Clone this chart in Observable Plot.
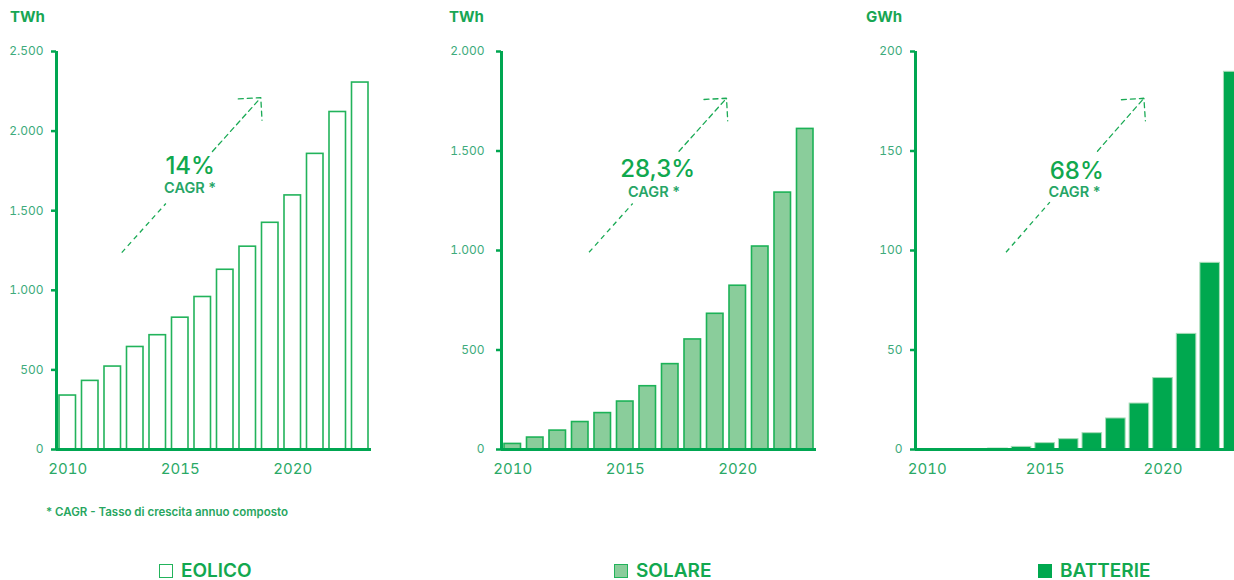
<!DOCTYPE html>
<html><head><meta charset="utf-8">
<script src="https://cdn.jsdelivr.net/npm/d3@7"></script>
<script src="https://cdn.jsdelivr.net/npm/@observablehq/plot@0.6"></script>
<style>
body{margin:0;width:1234px;height:580px;overflow:hidden;background:#fff;font-family:Inter,sans-serif;position:relative}
.panel{position:absolute;top:0;width:400px;height:480px}
.panel svg{max-width:none !important}
.unit{position:absolute;top:9px;font-weight:700;font-size:15px;line-height:1;color:#18a653}
.note{position:absolute;left:46px;top:507px;font-size:11.5px;line-height:1;font-weight:600;color:#27a660}
.legend{position:absolute;top:564px;font-size:19px;line-height:14px;font-weight:600;color:#12a84f;display:flex;align-items:center}
.sw{width:12px;height:12px;border:1.5px solid #22b35b;margin-right:8px;box-sizing:content-box}
</style>
</head><body>
<div id="p1" class="panel" style="left:0"></div>
<div id="p2" class="panel" style="left:420px"></div>
<div id="p3" class="panel" style="left:850px"></div>
<div class="unit" style="left:10px">TWh</div>
<div class="unit" style="left:449px">TWh</div>
<div class="unit" style="left:866px">GWh</div>
<div class="note">* CAGR - Tasso di crescita annuo composto</div>
<div class="legend" style="left:159px"><span class="sw" style="background:#fff"></span>EOLICO</div>
<div class="legend" style="left:614px"><span class="sw" style="background:#8acd9b"></span>SOLARE</div>
<div class="legend" style="left:1038px"><span class="sw" style="background:#00a84f;border-color:#00a84f"></span>BATTERIE</div>
<script>
// ---- data ----
const years = [2010, 2011, 2012, 2013, 2014, 2015, 2016, 2017, 2018, 2019, 2020, 2021, 2022, 2023];
const eolico = [339, 431, 521, 644, 718, 828, 958, 1129, 1274, 1424, 1596, 1857, 2120, 2305];
const solare = [28, 60, 95, 138, 183, 241, 318, 429, 553, 682, 823, 1020, 1291, 1611];
const batterie = [0.1, 0.1, 0.2, 0.5, 1.3, 3.2, 5.2, 8.2, 15.6, 23.1, 35.9, 58.1, 93.8, 189.8];
const eolicoTicks = [0, 500, 1000, 1500, 2000, 2500];
const solareTicks = [0, 500, 1000, 1500, 2000];
const batterieTicks = [0, 50, 100, 150, 200];
const xTicks = [2010, 2015, 2020];
const cagrLabels = ["14%", "28,3%", "68%"];
const cagrNote = "CAGR *";
// annotation anchor points, in data units [year, value]
const eolicoArrow = {start: [2012.4, 1237], gapStart: [2014.36, 1545], gapEnd: [2016.43, 1872], tip: [2018.58, 2210], pct: [2015.44, 1776], sub: [2015.44, 1640]};
const solareArrow = {start: [2013.39, 991], gapStart: [2015.33, 1236], gapEnd: [2017.39, 1499], tip: [2019.5, 1765], pct: [2016.44, 1408], sub: [2016.28, 1292]};
const batterieArrow = {start: [2013.34, 99.1], gapStart: [2015.2, 124.3], gapEnd: [2017.22, 149.9], tip: [2019.19, 176.5], pct: [2016.34, 139.8], sub: [2016.25, 129.0]};

const xDomain = [2009.5, 2023.5];
const green = "#00a651";
const fmt = d3.formatLocale({decimal: ",", thousands: ".", grouping: [3], currency: ["", "€"]}).format(",");

function panel({values, ticks, marginLeft, marginRight, tickPadding, fill, stroke, strokeWidth, inset, ann, pct}) {
  const data = years.map((year, i) => ({year, value: values[i]}));
  const a = [ann];
  return Plot.plot({
    width: 400, height: 480,
    marginTop: 51, marginBottom: 31, marginLeft, marginRight,
    style: {fontFamily: "Inter, sans-serif", overflow: "visible", background: "transparent", maxWidth: "none"},
    x: {type: "linear", domain: xDomain},
    y: {domain: [0, ticks[ticks.length - 1]]},
    marks: [
      Plot.rectY(data, {x1: d => d.year - 0.5, x2: d => d.year + 0.5, y1: 0, y2: "value", fill, stroke, strokeWidth, insetLeft: inset, insetRight: inset}),
      Plot.ruleX([xDomain[0]], {stroke: green, strokeWidth: 3}),
      Plot.ruleY([0], {stroke: green, strokeWidth: 3}),
      Plot.axisY({ticks, tickSize: 5, tickPadding, tickFormat: fmt, fontSize: 12, fill: "#3dab7c", stroke: green, strokeWidth: 2.5, label: null}),
      Plot.axisX({ticks: xTicks, tickSize: 0, tickPadding: 14, tickFormat: d => String(d), fontSize: 15, fill: "#2aa966", label: null}),
      Plot.link(a, {x1: d => d.start[0], y1: d => d.start[1], x2: d => d.gapStart[0], y2: d => d.gapStart[1], stroke: "#1aaa55", strokeWidth: 1.3, strokeDasharray: "5,4"}),
      Plot.arrow(a, {x1: d => d.gapEnd[0], y1: d => d.gapEnd[1], x2: d => d.tip[0], y2: d => d.tip[1], stroke: "#1aaa55", strokeWidth: 1.3, strokeDasharray: "5,4", headAngle: 90, headLength: 26}),
      Plot.text(a, {x: d => d.pct[0], y: d => d.pct[1], text: () => pct, fontSize: 24, fontWeight: 500, fill: "#10a84e"}),
      Plot.text(a, {x: d => d.sub[0], y: d => d.sub[1], text: () => cagrNote, fontSize: 14.5, fontWeight: 600, fill: "#26a566"})
    ]
  });
}

document.getElementById("p1").append(panel({values: eolico, ticks: eolicoTicks, marginLeft: 56, marginRight: 29, tickPadding: 8,
  fill: "#ffffff", stroke: "#22b35b", strokeWidth: 1.6, inset: 3, ann: eolicoArrow, pct: cagrLabels[0]}));
document.getElementById("p2").append(panel({values: solare, ticks: solareTicks, marginLeft: 81, marginRight: 4, tickPadding: 12,
  fill: "#8acd9b", stroke: "#1cb257", strokeWidth: 1.6, inset: 3, ann: solareArrow, pct: cagrLabels[1]}));
document.getElementById("p3").append(panel({values: batterie, ticks: batterieTicks, marginLeft: 65, marginRight: 5, tickPadding: 8,
  fill: "#00a84f", stroke: "#a8dcb8", strokeWidth: 1, inset: 2, ann: batterieArrow, pct: cagrLabels[2]}));
</script>
</body></html>
